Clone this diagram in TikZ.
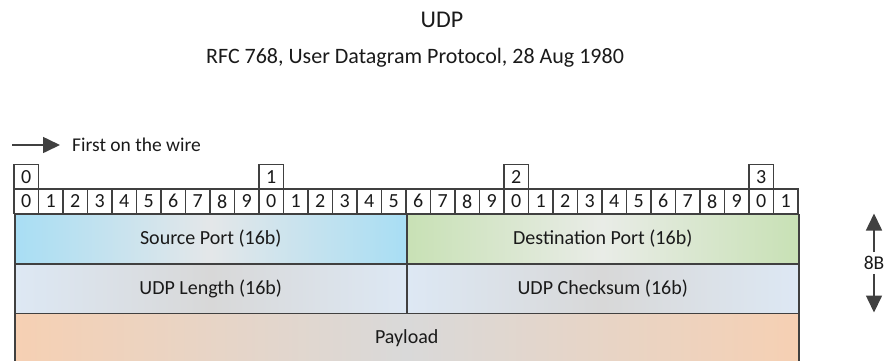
\documentclass[tikz,border=0pt]{standalone}
\usepackage{fontspec}
\setmainfont{Carlito}
\usetikzlibrary{arrows.meta,positioning}

\definecolor{linegray}{HTML}{404040}
\definecolor{txtgray}{HTML}{1A1A1A}
\definecolor{srcblue}{HTML}{A8DEF4}
\definecolor{srcmid}{HTML}{E4E7E9}
\definecolor{dstgreen}{HTML}{C8E1B5}
\definecolor{dstmid}{HTML}{E9ECE7}
\definecolor{lenblue}{HTML}{DDE8F4}
\definecolor{lenmid}{HTML}{D8D8D8}
\definecolor{payorange}{HTML}{F6D0B3}
\definecolor{paymid}{HTML}{D9D9D9}

\begin{document}
\begin{tikzpicture}[x=1pt,y=-1pt,
    bitcell/.style={draw=linegray,line width=1.5pt,minimum width=24.5pt,minimum height=24.5pt,
      inner sep=0pt,text=txtgray,font=\fontsize{20}{22}\selectfont},
    field/.style={draw=linegray,line width=1.5pt,minimum width=392pt,minimum height=49.5pt,
      inner sep=0pt,text=txtgray,font=\fontsize{20}{22}\selectfont},
    plain/.style={text=txtgray,font=\fontsize{19.5}{22}\selectfont},
    bigarrow/.style={draw=linegray,line width=1.6pt,-{Triangle[length=17pt,width=16pt]}}]
  \useasboundingbox (0,0) rectangle (885,360);

  % Title
  \node[plain,font=\fontsize{24}{27}\selectfont] (title) at (442,20) {UDP};
  \node[plain,font=\fontsize{22}{25}\selectfont] (subtitle) at (415,58) {RFC 768, User Datagram Protocol, 28 Aug 1980};

  % Wire order
  \coordinate (wstart) at (12,145);
  \node[plain,anchor=west,inner sep=2pt] (wire) at (70,145) {First on the wire};
  \draw[bigarrow,shorten >=10pt] (wstart) -- (wire.west);

  % Bit numbers
  \foreach \t in {0,1,2,3}
    \node[bitcell] (tens\t) at (26.25+245*\t,176.75) {\t};
  \foreach \i in {0,...,31} {
    \pgfmathtruncatemacro{\d}{mod(\i,10)}
    \node[bitcell] (bit\i) at (26.25+24.5*\i,201.25) {\d};
  }

  % Header fields
  \node[field,left color=srcblue,right color=srcblue,middle color=srcmid,anchor=north west]
    (srcport) at (14,213.5) {Source Port (16b)};
  \node[field,left color=dstgreen,right color=dstgreen,middle color=dstmid,anchor=north west]
    (dstport) at (406,213.5) {Destination Port (16b)};
  \node[field,left color=lenblue,right color=lenblue,middle color=lenmid,anchor=north west]
    (udplen) at (14,263) {UDP Length (16b)};
  \node[field,left color=lenblue,right color=lenblue,middle color=lenmid,anchor=north west]
    (udpsum) at (406,263) {UDP Checksum (16b)};
  \node[field,minimum width=784pt,left color=payorange,right color=payorange,middle color=paymid,anchor=north west]
    (payload) at (14,312.5) {Payload};

  % Header size
  \node[plain,inner sep=4pt] (hdrsize) at (874,263) {8B};
  \coordinate (sztop) at (874,213.5);
  \coordinate (szbot) at (874,312.5);
  \draw[bigarrow] (hdrsize) -- (sztop);
  \draw[bigarrow] (hdrsize) -- (szbot);
\end{tikzpicture}
\end{document}
